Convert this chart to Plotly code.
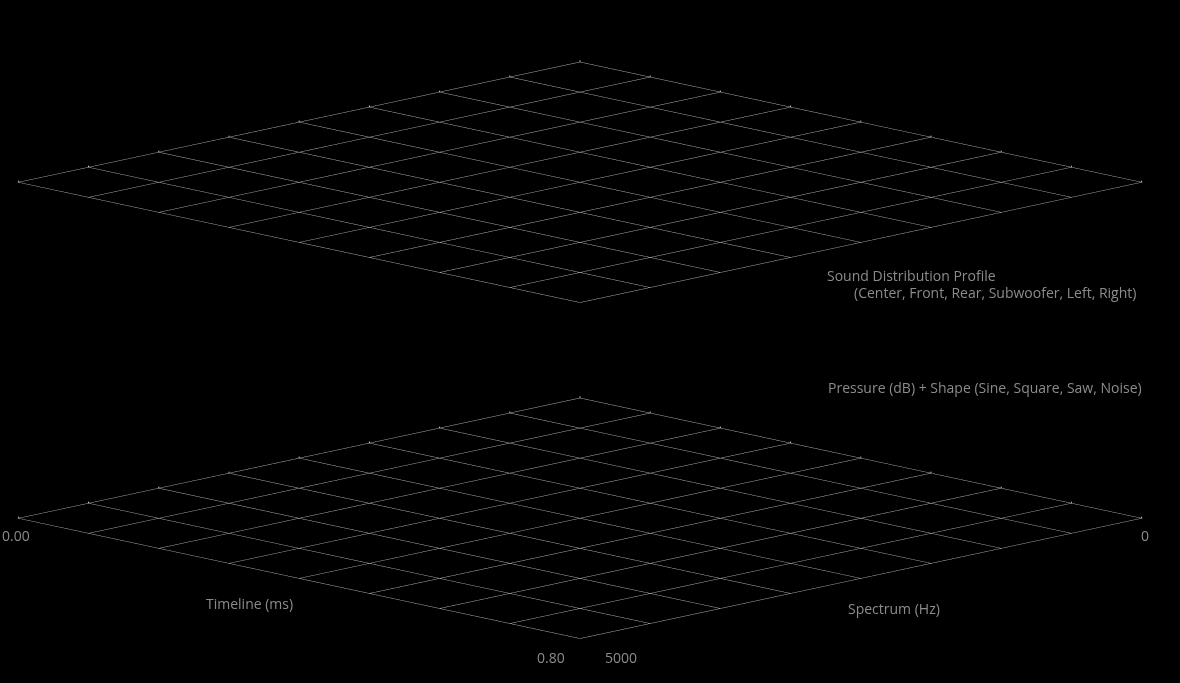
import plotly.graph_objects as go

# ---- data (axis ranges / ticks) ----
timeline_ticks = [0.0, 0.1, 0.2, 0.3, 0.4, 0.5, 0.6, 0.7, 0.8]
spectrum_ticks = [0, 625, 1250, 1875, 2500, 3125, 3750, 4375, 5000]
timeline_range = [0.0, 0.8]
spectrum_range = [0, 5000]
pressure_range = [0, 1]
timeline_title = "Timeline (ms)"
spectrum_title = "Spectrum (Hz)"

GRID = "#cccccc"
TXT = "#8c8c8c"
FONT = "Open Sans"
FS = 14

fig = go.Figure()

for sc in ["scene", "scene2"]:
    fig.add_trace(go.Scatter3d(
        x=timeline_range, y=spectrum_range, z=pressure_range,
        mode="markers", marker=dict(size=1, opacity=0, color="black"),
        hoverinfo="skip", showlegend=False, scene=sc))

def axis(ticks, rng):
    return dict(
        range=rng, tickvals=ticks,
        showticklabels=False,
        title=dict(text=""),
        showgrid=True, gridcolor=GRID, gridwidth=2,
        showline=False, zeroline=False, showbackground=False,
        showspikes=False, ticks="",
    )

eye_k = 8.0
camera = dict(
    eye=dict(x=eye_k, y=-eye_k, z=eye_k * 0.31),
    up=dict(x=0, y=0, z=1),
    center=dict(x=0, y=0, z=0),
    projection=dict(type="orthographic"),
)
AR = 4.98

def ann(text, x, y, xs, ys):
    return dict(text=text, x=x, y=y, z=pressure_range[0], showarrow=False,
                xshift=xs, yshift=ys, xanchor="center", yanchor="middle",
                font=dict(color=TXT, size=FS, family=FONT))

t0, t1 = timeline_range
s0, s1 = spectrum_range
bottom_annotations = [
    ann(f"{timeline_ticks[0]:.2f}", t0, s1, -2, -17),
    ann(f"{timeline_ticks[-1]:.2f}", t1, s1, -29, -19),
    ann(f"{spectrum_ticks[-1]}", t1, s1, 41, -19),
    ann(f"{spectrum_ticks[0]}", t1, s0, 3, -17),
    ann(timeline_title, (t0 + t1) / 2, s1, -50, -25),
    ann(spectrum_title, t1, (s0 + s1) / 2, 33, -30),
]

def scene(dom_y, annotations):
    return dict(
        domain=dict(x=[0, 0.983], y=dom_y),
        xaxis=axis(timeline_ticks, timeline_range),
        yaxis=axis(spectrum_ticks, spectrum_range[::-1]),
        zaxis=dict(visible=False, range=pressure_range),
        aspectmode="manual",
        aspectratio=dict(x=AR, y=AR, z=0.01),
        camera=camera,
        bgcolor="black",
        dragmode=False,
        annotations=annotations,
    )

fig.update_layout(
    width=1180, height=683,
    margin=dict(l=0, r=0, t=0, b=0),
    paper_bgcolor="black", plot_bgcolor="black",
    scene=scene([0.5015, 0.9685], []),
    scene2=scene([0.0083, 0.4753], bottom_annotations),
    showlegend=False,
    annotations=[
        dict(text="Sound Distribution Profile", x=825/1180, y=1-275/683,
             xref="paper", yref="paper", xanchor="left", yanchor="middle",
             showarrow=False, font=dict(color=TXT, size=FS, family=FONT)),
        dict(text="(Center, Front, Rear, Subwoofer, Left, Right)", x=852/1180, y=1-292/683,
             xref="paper", yref="paper", xanchor="left", yanchor="middle",
             showarrow=False, font=dict(color=TXT, size=FS, family=FONT)),
        dict(text="Pressure (dB) + Shape (Sine, Square, Saw, Noise)", x=826/1180, y=1-387/683,
             xref="paper", yref="paper", xanchor="left", yanchor="middle",
             showarrow=False, font=dict(color=TXT, size=FS, family=FONT)),
    ],
)

fig.write_html("out.html")
